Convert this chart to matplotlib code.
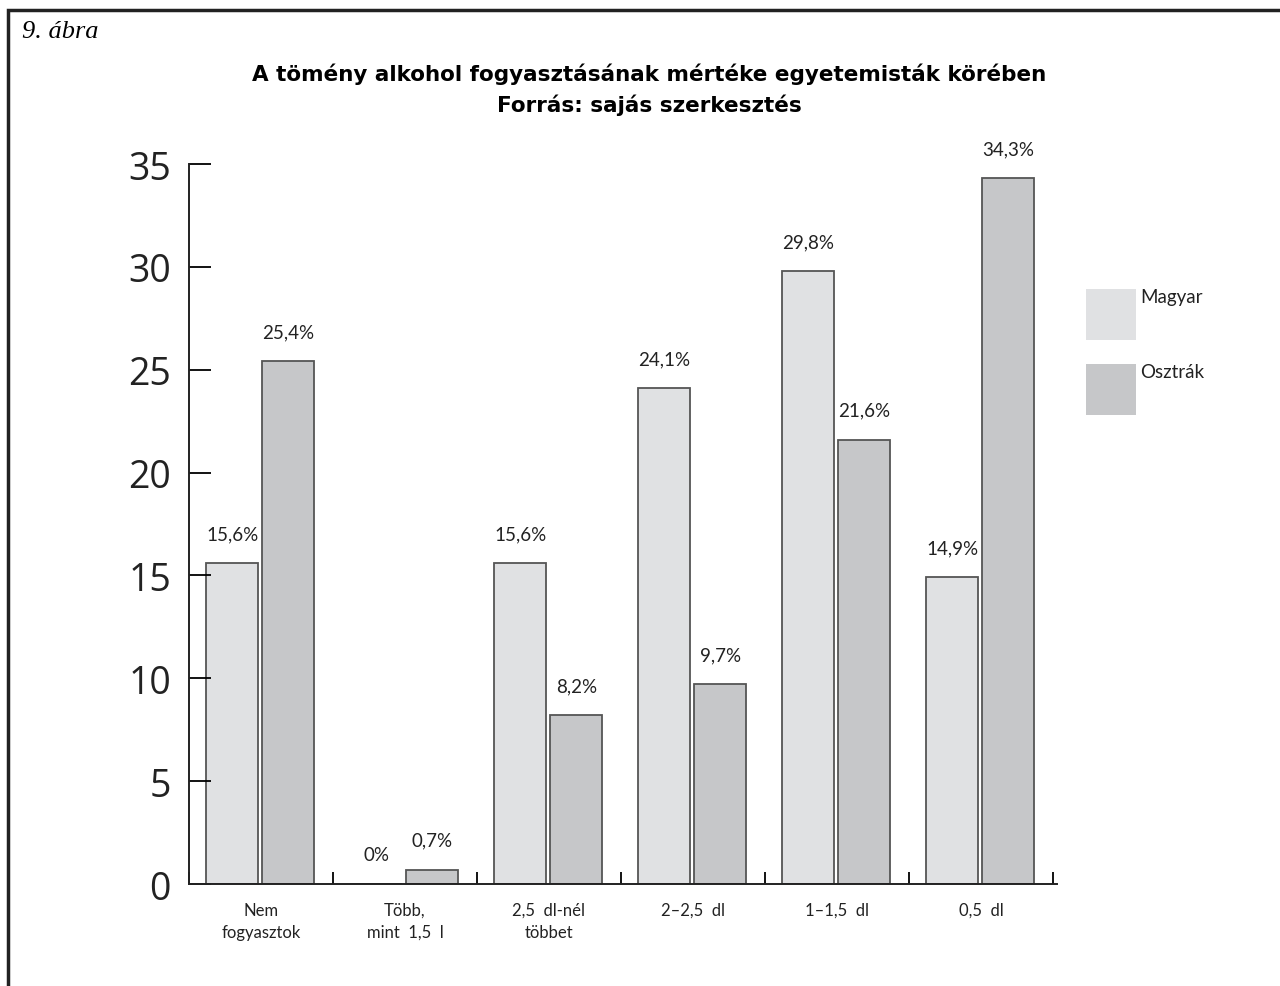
import matplotlib.pyplot as plt
from matplotlib.patches import Rectangle
import numpy as np

# Adatok: tömény alkohol fogyasztás (%)
categories = ["Nem\nfogyasztok", "Több,\nmint  1,5  l", "2,5  dl-nél\ntöbbet",
              "2–2,5  dl", "1–1,5  dl", "0,5  dl"]
magyar = [15.6, 0, 15.6, 24.1, 29.8, 14.9]
osztrak = [25.4, 0.7, 8.2, 9.7, 21.6, 34.3]
magyar_labels = ["15,6%", "0%", "15,6%", "24,1%", "29,8%", "14,9%"]
osztrak_labels = ["25,4%", "0,7%", "8,2%", "9,7%", "21,6%", "34,3%"]
series_names = ["Magyar", "Osztrák"]
yticks = [0, 5, 10, 15, 20, 25, 30, 35]

col_m = "#e0e1e3"
col_o = "#c6c7c9"
edge = "#555555"

W, H = 1280, 987
fig = plt.figure(figsize=(W / 100, H / 100), dpi=100)
ax = fig.add_axes([189 / W, 1 - 885 / H, 864 / W, 720 / H])

x = np.arange(len(categories))
bw = 0.36
ax.bar(x - 0.2, magyar, bw, color=col_m, edgecolor=edge, linewidth=1.3)
ax.bar(x + 0.19, osztrak, bw, color=col_o, edgecolor=edge, linewidth=1.3)

for xi, v, t in zip(x, magyar, magyar_labels):
    ax.annotate(t, (xi - 0.2, v), xytext=(0, 15), textcoords="offset points",
                ha="center", va="bottom", fontsize=13.5, family="Lato", color="#222222")
for xi, v, t in zip(x, osztrak, osztrak_labels):
    ax.annotate(t, (xi + 0.19, v), xytext=(0, 15), textcoords="offset points",
                ha="center", va="bottom", fontsize=13.5, family="Lato", color="#222222")

ax.set_xlim(-0.5, len(categories) - 0.5)
ax.set_ylim(0, 35)
ax.set_yticks(yticks)
ax.set_yticklabels([str(v) for v in yticks], fontsize=27, family="Open Sans",
                   color="#222222")
ax.tick_params(axis="y", direction="in", length=16, width=1.3, pad=13)

ax.set_xticks(x)
ax.set_xticklabels(categories, fontsize=12, family="Lato", color="#222222",
                   linespacing=1.45)
ax.tick_params(axis="x", which="major", length=0, pad=13)
ax.set_xticks(np.arange(-0.5, len(categories)), minor=True)
ax.tick_params(axis="x", which="minor", direction="in", length=9, width=1.3)

for s in ["top", "right"]:
    ax.spines[s].set_visible(False)
for s in ["left", "bottom"]:
    ax.spines[s].set_linewidth(1.4)
    ax.spines[s].set_color("#222222")
ax.spines["bottom"].set_bounds(-0.5, len(categories) - 0.47)

# cím
fig.text(649 / W, 1 - 74 / H, "A tömény alkohol fogyasztásának mértéke egyetemisták körében",
         ha="center", va="center", fontsize=15.5, weight="bold", family="DejaVu Sans")
fig.text(649 / W, 1 - 105 / H, "Forrás: sajás szerkesztés",
         ha="center", va="center", fontsize=15.5, weight="bold", family="DejaVu Sans")
fig.text(22 / W, 1 - 32 / H, "9. ábra", ha="left", va="center", fontsize=19,
         style="italic", family="Liberation Serif")

# jelmagyarázat
for i, (name, c) in enumerate(zip(series_names, [col_m, col_o])):
    y0 = 290 + i * 75
    fig.patches.append(Rectangle((1086 / W, 1 - (y0 + 51) / H), 50 / W, 51 / H,
                                 transform=fig.transFigure, facecolor=c, edgecolor="none"))
    fig.text(1140 / W, 1 - (y0 + 8) / H, name, ha="left", va="center",
             fontsize=13.5, family="Lato", color="#222222")

# keret
fig.patches.append(Rectangle((8 / W, -0.05), 1.1, 1 - 11 / H + 0.05,
                             transform=fig.transFigure, fill=False,
                             edgecolor="#222222", linewidth=2.5))

fig.savefig("out.png", dpi=100, facecolor="white")
